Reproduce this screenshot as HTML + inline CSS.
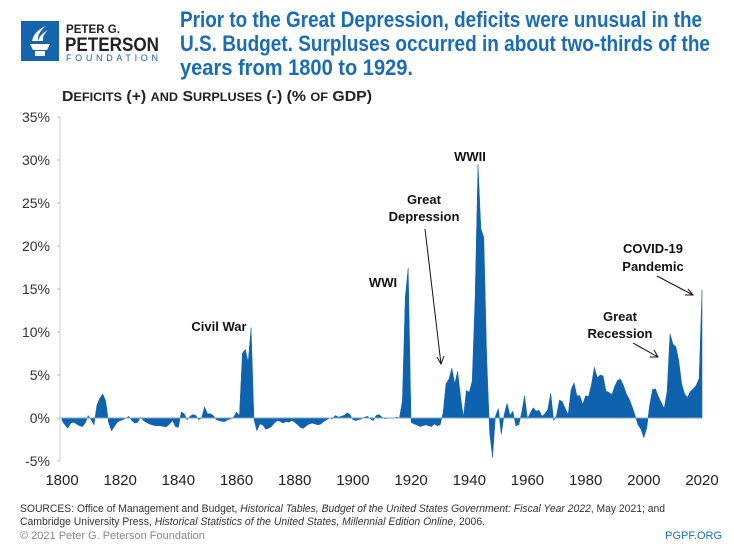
<!DOCTYPE html>
<html><head><meta charset="utf-8"><style>
html,body{margin:0;padding:0;background:#fff;}
svg{display:block;font-family:"Liberation Sans",sans-serif;}
</style></head><body>
<svg id="chart" width="734" height="546" viewBox="0 0 734 546">
  <g>
    <rect x="21" y="21" width="38" height="40" fill="#1464ae"/>
    <path d="M30 44 h20 l-3 6 h-14 z M35 51 h10 v5 h-10 z" fill="#fff"/>
    <path d="M32 41 q2-10 14-15 q-9 7-8 15 z M38 41 q2-7 10-11 q-6 5-5 11 z" fill="#fff"/>
    <text x="66" y="33" font-size="12" font-weight="bold" fill="#222" textLength="54" lengthAdjust="spacingAndGlyphs">PETER G.</text>
    <text x="65" y="51" font-size="19" font-weight="bold" fill="#222" textLength="94" lengthAdjust="spacingAndGlyphs">PETERSON</text>
    <text x="66" y="61" font-size="9" fill="#1464ae" textLength="92" lengthAdjust="spacing">FOUNDATION</text>
  </g>
  <g font-weight="bold" fill="#1a6db4" font-size="22">
    <text x="180" y="27" textLength="522" lengthAdjust="spacingAndGlyphs">Prior to the Great Depression, deficits were unusual in the</text>
    <text x="180" y="51" textLength="530" lengthAdjust="spacingAndGlyphs">U.S. Budget. Surpluses occurred in about two-thirds of the</text>
    <text x="180" y="75" textLength="233" lengthAdjust="spacingAndGlyphs">years from 1800 to 1929.</text>
  </g>
  <text x="62" y="101" font-size="15" font-weight="bold" fill="#222" textLength="310" lengthAdjust="spacingAndGlyphs">D<tspan font-size="12">EFICITS</tspan> (+) <tspan font-size="12">AND</tspan> S<tspan font-size="12">URPLUSES</tspan> (-) (% <tspan font-size="12">OF</tspan> GDP)</text>
  <g id="plot"></g>
  <g font-weight="bold" font-size="13" fill="#111" text-anchor="middle">
    <text x="219" y="331">Civil War</text>
    <text x="383" y="287">WWI</text>
    <text x="470" y="161">WWII</text>
    <text x="424" y="204">Great</text>
    <text x="424" y="221">Depression</text>
    <text x="653" y="253">COVID-19</text>
    <text x="653" y="271">Pandemic</text>
    <text x="620" y="321">Great</text>
    <text x="620" y="338">Recession</text>
  </g>
  <g stroke="#111" stroke-width="1" fill="none">
    <path d="M425 229 L441 364 M437 357 L441 364 L444 356"/>
    <path d="M657 276 L693 295 M685 295 L693 295 L688 289"/>
    <path d="M633 343 L658 357 M650 357 L658 357 L654 350"/>
  </g>
  <g font-size="11" fill="#333">
    <text x="20" y="512" textLength="645" lengthAdjust="spacingAndGlyphs">SOURCES: Office of Management and Budget, <tspan font-style="italic">Historical Tables, Budget of the United States Government: Fiscal Year 2022</tspan>, May 2021; and</text>
    <text x="20" y="525" textLength="465" lengthAdjust="spacingAndGlyphs">Cambridge University Press, <tspan font-style="italic">Historical Statistics of the United States, Millennial Edition Online</tspan>, 2006.</text>
    <text x="20" y="539" fill="#888">© 2021 Peter G. Peterson Foundation</text>
    <text x="722" y="539" fill="#1a6db4" text-anchor="end">PGPF.ORG</text>
  </g>
</svg>
<script>
const startYear = 1800;
const values = [
-0.3,-0.8,-1.2,-0.6,-0.5,-0.7,-0.9,-1.0,-0.6,0.3,
-0.2,-0.8,1.5,2.3,2.8,2.0,-0.5,-1.5,-1.0,-0.5,
-0.3,-0.2,0.0,0.2,-0.3,-0.6,-0.5,0.1,-0.3,-0.5,
-0.7,-0.8,-0.9,-0.9,-0.9,-1.0,-1.0,-0.7,-0.3,-1.0,
-1.1,0.7,0.5,-0.2,0.2,0.4,0.3,-0.2,0.0,1.3,
0.5,0.5,0.3,-0.2,-0.3,-0.4,-0.4,-0.2,-0.1,0.1,
0.7,0.3,7.5,8.0,6.5,10.5,-0.2,-1.5,-0.7,-0.8,
-1.3,-1.2,-1.0,-0.6,-0.3,-0.4,-0.6,-0.4,-0.5,-0.3,
-0.5,-0.8,-1.1,-1.2,-0.9,-0.7,-0.6,-0.7,-0.8,-0.7,
-0.4,-0.2,0.0,-0.1,0.3,0.1,0.2,0.3,0.6,0.4,
-0.2,-0.3,-0.2,-0.1,0.1,0.2,-0.1,-0.3,0.3,0.4,
0.1,-0.1,0.0,0.0,0.0,0.1,0.0,2.0,14.0,17.5,
-0.5,-0.7,-0.8,-1.0,-0.9,-0.8,-0.9,-1.0,-0.7,-0.9,
-0.8,0.6,4.0,4.5,5.8,4.0,5.4,2.5,0.1,3.2,
3.0,4.3,14.0,29.5,22.0,21.0,7.0,-1.7,-4.6,0.2,
1.1,-1.9,0.4,1.7,0.3,0.8,-0.9,-0.8,0.6,2.6,
-0.1,0.6,1.2,0.8,0.9,0.2,0.5,1.0,2.9,-0.3,
0.3,2.1,1.9,1.1,0.4,3.3,4.1,2.6,2.6,1.6,
2.6,2.5,3.9,5.9,4.7,5.0,4.9,3.1,3.0,2.7,
3.7,4.4,4.5,3.8,2.8,2.2,1.3,0.3,-0.8,-1.3,
-2.3,-1.2,1.5,3.3,3.4,2.5,1.8,1.1,3.1,9.8,
8.6,8.3,6.7,4.0,2.8,2.4,3.1,3.4,3.8,4.6,
14.9];
const yTicks = [35,30,25,20,15,10,5,0,-5];
const xTicks = [1800,1820,1840,1860,1880,1900,1920,1940,1960,1980,2000,2020];

const NS = "http://www.w3.org/2000/svg";
const plot = document.getElementById('plot');
const X0 = 62, X1 = 702, Y0 = 418, PPU = 8.6;
function xs(yr){ return X0 + (yr - 1800) * (X1 - X0) / 220; }
function ys(v){ return Y0 - v * PPU; }

const ax = document.createElementNS(NS,'line');
ax.setAttribute('x1',60);ax.setAttribute('x2',60);ax.setAttribute('y1',ys(35));ax.setAttribute('y2',ys(-5));
ax.setAttribute('stroke','#ccc');


plot.appendChild(ax);

yTicks.forEach(t=>{
  const tk = document.createElementNS(NS,'line');
  tk.setAttribute('x1',57);tk.setAttribute('x2',60);tk.setAttribute('y1',ys(t));tk.setAttribute('y2',ys(t));
  tk.setAttribute('stroke','#bbb');
  
  
  plot.appendChild(tk);
  const tx = document.createElementNS(NS,'text');
  tx.setAttribute('x',50);tx.setAttribute('y',ys(t)+5);
  tx.setAttribute('text-anchor','end');tx.setAttribute('font-size','14');tx.setAttribute('fill','#333');
  tx.textContent = t + '%';
  
  
  plot.appendChild(tx);
});
xTicks.forEach(t=>{
  const tx = document.createElementNS(NS,'text');
  tx.setAttribute('x',xs(t));tx.setAttribute('y',485);
  tx.setAttribute('text-anchor','middle');tx.setAttribute('font-size','15');tx.setAttribute('fill','#222');
  tx.textContent = t;
  
  
  plot.appendChild(tx);
});

let d = 'M' + xs(startYear) + ' ' + ys(0);
values.forEach((v,i)=>{ d += ' L' + xs(startYear+i).toFixed(2) + ' ' + ys(v).toFixed(2); });
d += ' L' + xs(startYear+values.length-1) + ' ' + ys(0) + ' Z';
const area = document.createElementNS(NS,'path');
area.setAttribute('d',d);
area.setAttribute('fill','#0f62ad');
area.setAttribute('stroke','#0f62ad');
area.setAttribute('stroke-width','0.5');


plot.appendChild(area);

const zl = document.createElementNS(NS,'line');
zl.setAttribute('x1',60);zl.setAttribute('x2',xs(2020));zl.setAttribute('y1',ys(0));zl.setAttribute('y2',ys(0));
zl.setAttribute('stroke','#7aa6cf');zl.setAttribute('stroke-width','1');


plot.appendChild(zl);
</script>
</body></html>
